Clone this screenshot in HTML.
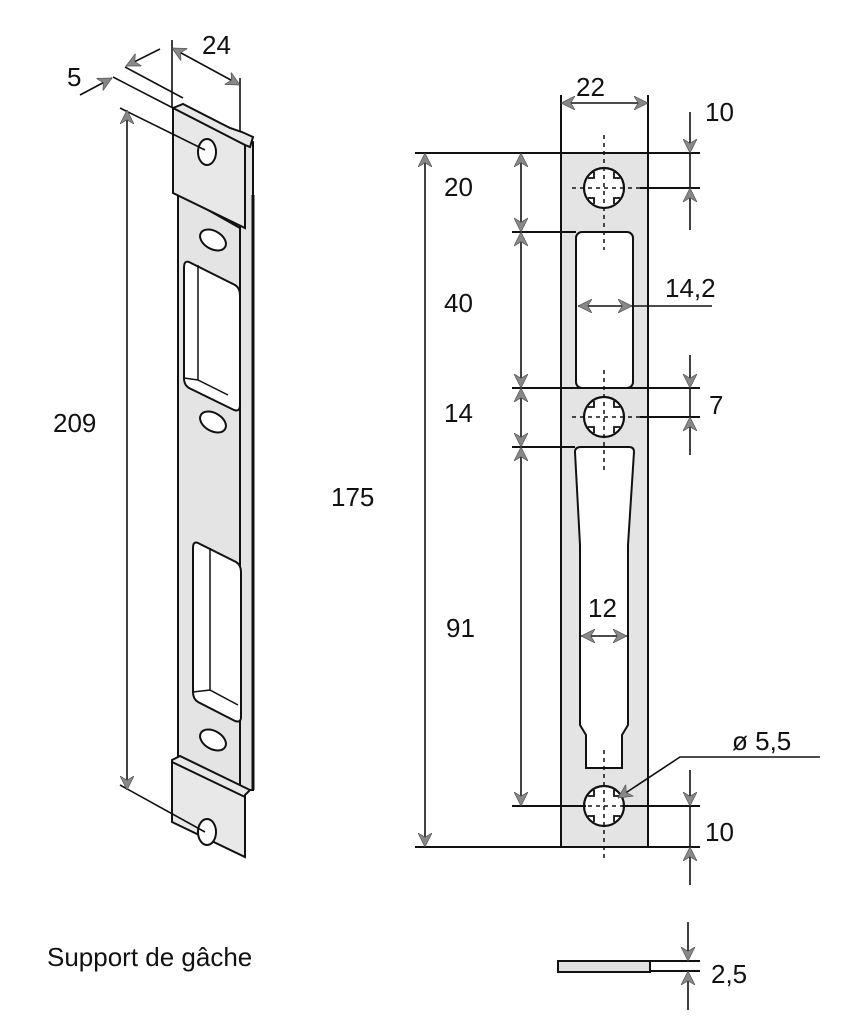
<!DOCTYPE html>
<html><head><meta charset="utf-8"><style>
html,body{margin:0;padding:0;background:#fff;}
svg{display:block;}
text{font-family:"Liberation Sans",sans-serif;font-size:26px;fill:#111;}
</style></head><body>
<svg width="856" height="1024" viewBox="0 0 856 1024" xmlns="http://www.w3.org/2000/svg">
<defs>
<marker id="a" viewBox="0 0 10 10" refX="10" refY="5" markerWidth="14" markerHeight="14" orient="auto-start-reverse" markerUnits="userSpaceOnUse">
<path d="M0,0 L10,5 L0,10 L3,5 Z" fill="#888" stroke="#555" stroke-width="0.5"/></marker>
</defs>
<g stroke="#111" stroke-width="2" fill="none">
<rect x="561" y="153" width="87" height="694" fill="#e4e4e4"/>
<rect x="576" y="232" width="57" height="156" rx="6" fill="#fff"/>
<path d="M581,447 L629,447 Q634,447 634,452 L628,545 L628,725 L622,735 L622,768 L586,768 L586,735 L580,725 L580,545 L575,452 Q575,447 581,447 Z" fill="#fff"/>
<g fill="#fff" stroke-width="2.2">
<circle cx="604" cy="188" r="20"/><circle cx="604" cy="417" r="20"/><circle cx="604" cy="806" r="20"/>
</g>
<g stroke-width="1.8">
<path d="M594,172 v6 h-6 M614,172 v6 h6 M594,204 v-6 h-6 M614,204 v-6 h6"/>
<path d="M594,401 v6 h-6 M614,401 v6 h6 M594,433 v-6 h-6 M614,433 v-6 h6"/>
<path d="M594,790 v6 h-6 M614,790 v6 h6 M594,822 v-6 h-6 M614,822 v-6 h6"/>
</g>
<g stroke-dasharray="4,4" stroke-width="1.5">
<line x1="604" y1="135" x2="604" y2="250"/><line x1="604" y1="370" x2="604" y2="470"/><line x1="604" y1="750" x2="604" y2="862"/>
<line x1="572" y1="188" x2="640" y2="188"/><line x1="572" y1="417" x2="640" y2="417"/><line x1="572" y1="806" x2="640" y2="806"/>
</g>
<line x1="415" y1="153" x2="700" y2="153"/>
<line x1="415" y1="847" x2="700" y2="847"/>
<line x1="512" y1="232" x2="576" y2="232"/>
<line x1="512" y1="388" x2="700" y2="388"/>
<line x1="512" y1="447" x2="575" y2="447"/>
<line x1="512" y1="806" x2="586" y2="806"/>
<line x1="622" y1="806" x2="700" y2="806"/>
<line x1="640" y1="188" x2="700" y2="188"/>
<line x1="640" y1="417" x2="700" y2="417"/>
<line x1="561" y1="95" x2="561" y2="153"/><line x1="648" y1="95" x2="648" y2="153"/>
<g stroke-width="1.6">
<line x1="425" y1="153" x2="425" y2="847" marker-start="url(#a)" marker-end="url(#a)"/>
<line x1="521" y1="153" x2="521" y2="232" marker-start="url(#a)" marker-end="url(#a)"/>
<line x1="521" y1="232" x2="521" y2="388" marker-start="url(#a)" marker-end="url(#a)"/>
<line x1="521" y1="388" x2="521" y2="447" marker-start="url(#a)" marker-end="url(#a)"/>
<line x1="521" y1="447" x2="521" y2="806" marker-start="url(#a)" marker-end="url(#a)"/>
<line x1="561" y1="103" x2="648" y2="103" marker-start="url(#a)" marker-end="url(#a)"/>
<line x1="578" y1="306" x2="632" y2="306" marker-start="url(#a)" marker-end="url(#a)"/>
<line x1="632" y1="306" x2="712" y2="306"/>
<line x1="581" y1="636" x2="627" y2="636" marker-start="url(#a)" marker-end="url(#a)"/>
<line x1="690" y1="112" x2="690" y2="153" marker-end="url(#a)"/>
<line x1="690" y1="230" x2="690" y2="188" marker-end="url(#a)"/>
<line x1="690" y1="153" x2="690" y2="188"/>
<line x1="690" y1="355" x2="690" y2="388" marker-end="url(#a)"/>
<line x1="690" y1="455" x2="690" y2="417" marker-end="url(#a)"/>
<line x1="690" y1="388" x2="690" y2="417"/>
<line x1="690" y1="770" x2="690" y2="806" marker-end="url(#a)"/>
<line x1="690" y1="885" x2="690" y2="847" marker-end="url(#a)"/>
<line x1="690" y1="806" x2="690" y2="847"/>
<polyline points="820,757 680,757 618,798" marker-end="url(#a)"/>
</g>
<rect x="558" y="961" width="92" height="11" fill="#e0e0e0"/>
<line x1="650" y1="961" x2="700" y2="961"/><line x1="650" y1="971" x2="700" y2="971"/>
<line x1="688" y1="922" x2="688" y2="961" stroke-width="1.6" marker-end="url(#a)"/>
<line x1="688" y1="1010" x2="688" y2="971" stroke-width="1.6" marker-end="url(#a)"/>
<path d="M178,193 L178,760 L240,790 L253,790 L253,142 L240,136 L240,228 Z" fill="#e4e4e4"/>
<line x1="240" y1="228" x2="240" y2="790"/>
<line x1="253" y1="195" x2="253" y2="790" stroke-width="3"/>
<path d="M173,108 L183,104 L230,128 L242,132 L253,137 L250,147 L245,145 L245,228 L173,193 Z" fill="#e8e8e8"/>
<line x1="173" y1="108" x2="245" y2="145"/>
<path d="M172,760 L180,756 L250,790 L245,795 L245,857 L172,822 Z" fill="#e8e8e8"/>
<line x1="172" y1="762" x2="245" y2="797"/>
<ellipse cx="207" cy="152" rx="9" ry="13" fill="#fff"/>
<ellipse cx="207" cy="832" rx="9" ry="13" fill="#fff"/>
<g fill="#fff">
<ellipse cx="213" cy="240" rx="9" ry="14" transform="rotate(-60 213 240)"/>
<ellipse cx="213" cy="422" rx="9" ry="14" transform="rotate(-60 213 422)"/>
<ellipse cx="213" cy="740" rx="9" ry="14" transform="rotate(-60 213 740)"/>
<path d="M189,262 L235,285 Q240,288 240,295 L240,405 Q240,412 234,410 L189,388 Q184,385 184,378 L184,268 Q184,260 189,262 Z"/>
<path d="M198,543 L236,562 Q241,565 241,572 L241,717 Q241,723 235,721 L198,702 Q193,699 193,692 L193,548 Q193,541 198,543 Z"/>
</g>
<path d="M198,265 L198,380 L228,395 M184,378 L198,380" stroke-width="1.5"/>
<path d="M210,548 L210,690 L238,705 M193,692 L210,690" stroke-width="1.5"/>
<line x1="172" y1="40" x2="172" y2="108" stroke-width="1.6"/>
<line x1="240" y1="78" x2="240" y2="132" stroke-width="1.6"/>
<line x1="172" y1="48" x2="240" y2="85" stroke-width="1.6" marker-start="url(#a)" marker-end="url(#a)"/>
<line x1="125" y1="67" x2="183" y2="98" stroke-width="1.6"/>
<line x1="113" y1="77" x2="173" y2="108" stroke-width="1.6"/>
<line x1="160" y1="49" x2="126" y2="66" stroke-width="1.6" marker-end="url(#a)"/>
<line x1="80" y1="95" x2="112" y2="78" stroke-width="1.6" marker-end="url(#a)"/>
<line x1="120" y1="108" x2="205" y2="150" stroke-width="1.6"/>
<line x1="120" y1="785" x2="205" y2="832" stroke-width="1.6"/>
<line x1="127" y1="110" x2="127" y2="790" stroke-width="1.6" marker-start="url(#a)" marker-end="url(#a)"/>
</g>
<text x="202" y="54">24</text>
<text x="67" y="86">5</text>
<text x="53" y="432">209</text>
<text x="331" y="506">175</text>
<text x="576" y="96">22</text>
<text x="705" y="121">10</text>
<text x="444" y="196">20</text>
<text x="444" y="312">40</text>
<text x="665" y="297">14,2</text>
<text x="444" y="422">14</text>
<text x="709" y="414">7</text>
<text x="446" y="637">91</text>
<text x="588" y="617">12</text>
<text x="732" y="750">ø 5,5</text>
<text x="705" y="841">10</text>
<text x="711" y="983">2,5</text>
<text x="47" y="966">Support de gâche</text>
</svg>
</body></html>
